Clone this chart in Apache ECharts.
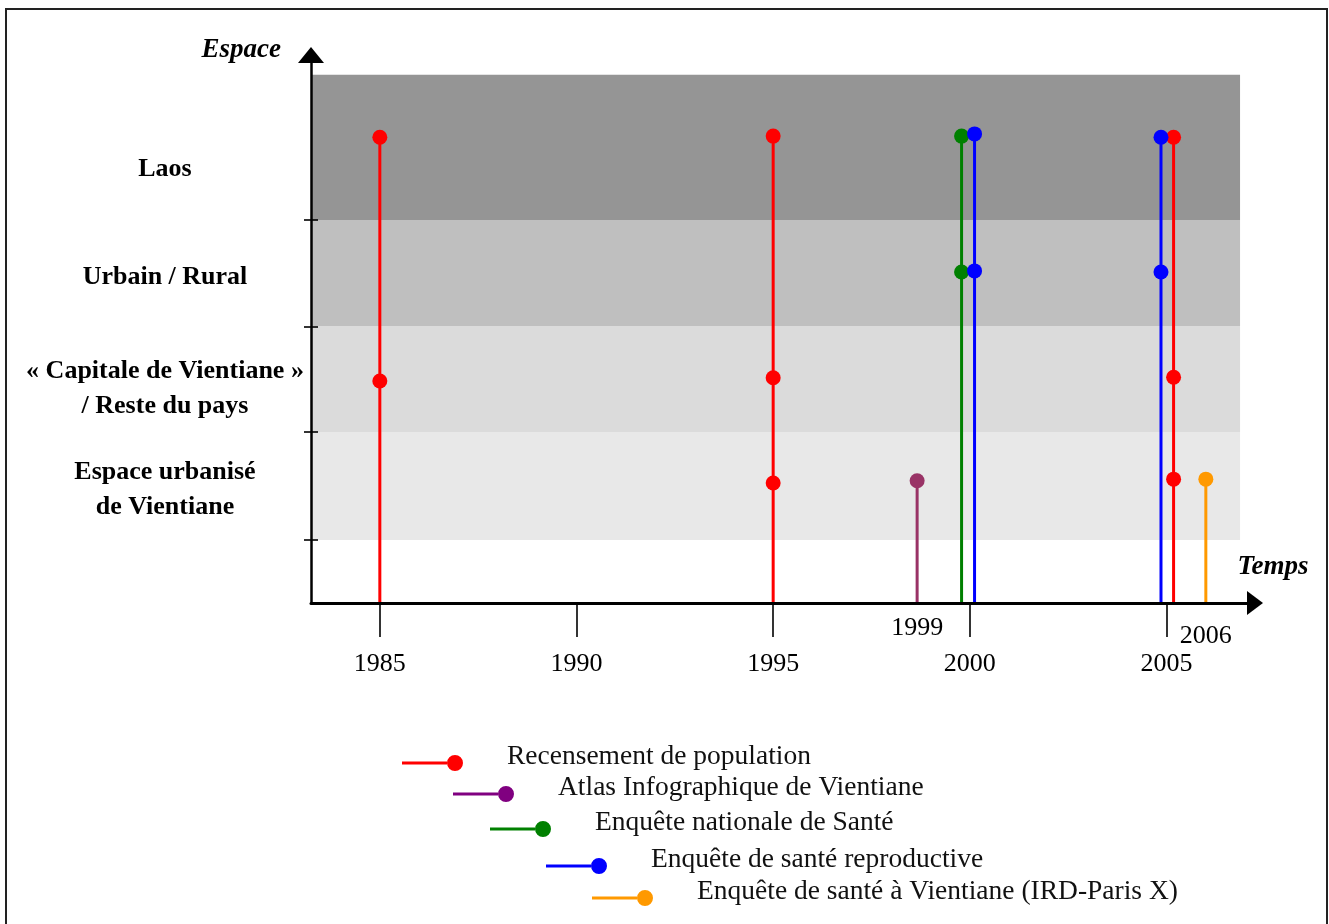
<!DOCTYPE html>
<html>
<head>
<meta charset="utf-8">
<script src="https://cdn.jsdelivr.net/npm/echarts@6/dist/echarts.min.js"></script>
<style>
html,body{margin:0;padding:0;background:#fff;}
#chart{width:1329px;height:924px;}
</style>
</head>
<body>
<div id="chart"></div>
<script>
// ---- data ----
const xTickYears = [1985, 1990, 1995, 2000, 2005];
const spaceLabels = ['Espace urbanisé\nde Vientiane', '« Capitale de Vientiane »\n/ Reste du pays', 'Urbain / Rural', 'Laos'];
const spaceLabelValues = [20.6, 39.0, 59.5, 79.2];
const bandEdges = [11.5, 31.2, 50.5, 69.9, 96.4];
const bandColors = ['#e8e8e8', '#dbdbdb', '#bfbfbf', '#959595'];
const seriesNames = ['Recensement de population', 'Atlas Infographique de Vientiane', 'Enquête nationale de Santé', 'Enquête de santé reproductive', 'Enquête de santé à Vientiane (IRD-Paris X)'];
const seriesColors = ['#ff0000', '#993366', '#008000', '#0000ff', '#ff9900'];
const legendColors = ['#ff0000', '#800080', '#008000', '#0000ff', '#ff9900'];
const recensementYears = [1985, 1995, 2005.18];
const recensementLevels = [[40.5, 85.0], [21.9, 41.1, 85.2], [22.6, 41.2, 85.0]];
const atlasYears = [1998.66];
const atlasLevels = [[22.3]];
const ensYears = [1999.79];
const ensLevels = [[60.4, 85.2]];
const esrYears = [2000.12, 2004.86];
const esrLevels = [[60.6, 85.6], [60.4, 85.0]];
const irdYears = [2006.0];
const irdLevels = [[22.6]];
const extraLabelYears = [atlasYears[0], irdYears[0]];
const extraLabelText = ['1999', '2006'];
const xMin = 1983.25, xMax = 2007.25, bandEndYear = 2006.87;

const FONT = 'Liberation Serif';
const groups = [
  [recensementYears, recensementLevels],
  [atlasYears, atlasLevels],
  [ensYears, ensLevels],
  [esrYears, esrLevels],
  [irdYears, irdLevels]
];

const series = [{
  type: 'line', name: 'bands', data: [], z: 1, silent: true,
  markArea: {
    silent: true,
    data: bandColors.map((c, i) => [
      {xAxis: xMin, yAxis: bandEdges[i], itemStyle: {color: c}},
      {xAxis: bandEndYear, yAxis: bandEdges[i + 1]}
    ])
  }
}];
groups.forEach((g, si) => {
  const years = g[0], levels = g[1];
  years.forEach((yr, k) => {
    const data = [{value: [yr, 0], symbol: 'none'}];
    levels[k].forEach(v => data.push({value: [yr, v]}));
    series.push({
      type: 'line', name: seriesNames[si], data: data, z: 3 + si,
      symbol: 'circle', symbolSize: 15, showSymbol: true,
      color: seriesColors[si],
      itemStyle: {color: seriesColors[si]},
      lineStyle: {color: seriesColors[si], width: 3},
      animation: false
    });
  });
});

const legendPos = [[402, 743], [453, 774], [490, 809], [546, 846], [592, 878]];
const iconPath = 'path://M0,0L0.05,0L0,0.05Z M0,18.5L45,18.5L45,21.5L0,21.5Z M45,20A8,8,0,1,0,61,20A8,8,0,1,0,45,20Z';
const legends = seriesNames.map((n, i) => ({
  left: legendPos[i][0], top: legendPos[i][1], padding: 0,
  orient: 'horizontal', selectedMode: false,
  itemWidth: 61, itemHeight: 28,
  icon: iconPath,
  data: [{name: n, icon: iconPath, itemStyle: {color: legendColors[i], borderWidth: 0}}],
  textStyle: {fontFamily: FONT, fontSize: 27.5, color: '#111', padding: [0, 0, 0, 39]}
}));

const chart = echarts.init(document.getElementById('chart'));
chart.setOption({
  animation: false,
  backgroundColor: '#fff',
  grid: {left: 311, right: 74, top: 55, bottom: 321, containLabel: false},
  legend: legends,
  graphic: [{
    type: 'rect', shape: {x: 6, y: 9, width: 1321, height: 940},
    style: {fill: 'none', stroke: '#222', lineWidth: 2}, silent: true, z: 100
  }],
  xAxis: [{
    type: 'value', min: xMin, max: xMax, position: 'bottom', z: 10,
    name: 'Temps', nameLocation: 'end', nameGap: 18,
    nameTextStyle: {fontFamily: FONT, fontSize: 27, fontStyle: 'italic', fontWeight: 'bold', color: '#000', align: 'center', verticalAlign: 'bottom', lineHeight: 72},
    axisLine: {show: true, onZero: false, symbol: ['none', 'triangle'], symbolSize: [24, 16], lineStyle: {color: '#000', width: 3}},
    axisTick: {show: true, length: 34, customValues: xTickYears, lineStyle: {color: '#000', width: 1.6}},
    axisLabel: {show: true, customValues: xTickYears, margin: 48, fontFamily: FONT, fontSize: 26, color: '#000', formatter: v => String(Math.round(v))},
    splitLine: {show: false}
  }, {
    type: 'value', min: xMin, max: xMax, position: 'bottom', offset: 0, z: 10,
    axisLine: {show: false}, axisTick: {show: false}, splitLine: {show: false},
    axisLabel: {
      show: true, customValues: extraLabelYears, margin: 12,
      fontFamily: FONT, fontSize: 26, color: '#000',
      formatter: function (v) {
        let best = 0;
        extraLabelYears.forEach((y, i) => { if (Math.abs(y - v) < Math.abs(extraLabelYears[best] - v)) best = i; });
        return best === 0 ? '{a|' + extraLabelText[best] + '}' : '{b|' + extraLabelText[best] + '}';
      },
      rich: {
        a: {fontFamily: FONT, fontSize: 26, color: '#000', padding: [0, 0, 0, 0]},
        b: {fontFamily: FONT, fontSize: 26, color: '#000', padding: [8, 0, 0, 0]}
      }
    }
  }],
  yAxis: [{
    type: 'value', min: 0, max: 100, position: 'left', z: 10,
    name: 'Espace', nameLocation: 'end', nameGap: 5,
    nameTextStyle: {fontFamily: FONT, fontSize: 27, fontStyle: 'italic', fontWeight: 'bold', color: '#000', align: 'right', verticalAlign: 'middle', padding: [0, 30, 0, 0]},
    axisLine: {show: true, onZero: false, symbol: ['none', 'triangle'], symbolSize: [26, 16], lineStyle: {color: '#000', width: 2.5}},
    axisTick: {show: true, length: 7, customValues: bandEdges.slice(0, 4), lineStyle: {color: '#000', width: 1.6}},
    axisLabel: {
      show: true, customValues: spaceLabelValues, margin: 146, align: 'center',
      fontFamily: FONT, fontSize: 26, fontWeight: 'bold', color: '#000', lineHeight: 35,
      formatter: function (v) {
        let best = 0;
        spaceLabelValues.forEach((y, i) => { if (Math.abs(y - v) < Math.abs(spaceLabelValues[best] - v)) best = i; });
        return spaceLabels[best];
      }
    },
    splitLine: {show: false}
  }, {
    type: 'value', min: 0, max: 100, position: 'left', offset: -7, z: 10,
    axisLine: {show: false},
    axisTick: {show: true, inside: false, length: 7, customValues: bandEdges.slice(0, 4), lineStyle: {color: '#000', width: 1.6}},
    axisLabel: {show: false}, splitLine: {show: false}
  }],
  series: series
});
</script>
</body>
</html>
